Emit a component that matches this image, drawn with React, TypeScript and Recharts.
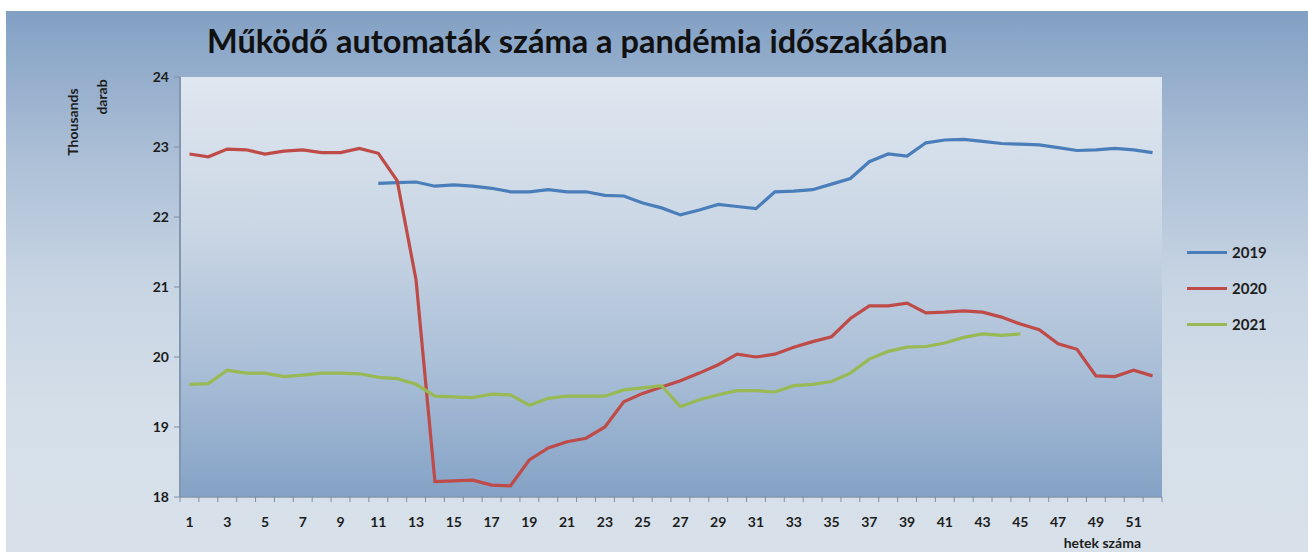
import React from "react";
import { LineChart, Line, XAxis, YAxis, CartesianGrid, Legend, ReferenceArea } from "recharts";

const weeks: number[] = [1,2,3,4,5,6,7,8,9,10,11,12,13,14,15,16,17,18,19,20,21,22,23,24,25,26,27,28,29,30,31,32,33,34,35,36,37,38,39,40,41,42,43,44,45,46,47,48,49,50,51,52];

const series2019: (number | null)[] = [null,null,null,null,null,null,null,null,null,null,
  22.48,22.49,22.5,22.44,22.46,22.44,22.41,22.36,22.36,22.39,
  22.36,22.36,22.31,22.3,22.2,22.13,22.03,22.1,22.18,22.15,
  22.12,22.36,22.37,22.39,22.47,22.55,22.79,22.9,22.87,23.06,
  23.1,23.11,23.08,23.05,23.04,23.03,22.99,22.95,22.96,22.98,
  22.96,22.92];

const series2020: (number | null)[] = [22.9,22.86,22.97,22.96,22.9,22.94,22.96,22.92,22.92,22.98,
  22.91,22.52,21.1,18.22,18.23,18.24,18.17,18.16,18.53,18.7,
  18.79,18.84,19.0,19.36,19.48,19.57,19.66,19.77,19.89,20.04,
  20.0,20.04,20.14,20.22,20.29,20.55,20.73,20.73,20.77,20.63,
  20.64,20.66,20.64,20.57,20.47,20.39,20.19,20.11,19.73,19.72,
  19.81,19.73];

const series2021: (number | null)[] = [19.61,19.62,19.81,19.77,19.77,19.72,19.74,19.77,19.77,19.76,
  19.71,19.69,19.61,19.44,19.43,19.42,19.47,19.46,19.31,19.41,
  19.44,19.44,19.44,19.53,19.56,19.59,19.29,19.39,19.46,19.52,
  19.52,19.5,19.59,19.61,19.65,19.77,19.97,20.08,20.14,20.15,
  20.2,20.28,20.33,20.31,20.33,null,null,null,null,null,
  null,null];

const yTicks: number[] = [18,19,20,21,22,23,24];
const gridValues: number[] = [19,20,21,22,23];
const xLabelTicks: number[] = [1,3,5,7,9,11,13,15,17,19,21,23,25,27,29,31,33,35,37,39,41,43,45,47,49,51];
const xBoundaryTicks: number[] = [0.5, ...weeks.map((w) => w + 0.5)];

const seriesNames = ["2019", "2020", "2021"];
const seriesColors = ["#4a7ebb", "#be4b48", "#98b954"];

const data = weeks.map((w, i) => ({
  week: w,
  y2019: series2019[i],
  y2020: series2020[i],
  y2021: series2021[i],
}));

const FONT = "Lato, 'Open Sans', sans-serif";
const TXT = "#1c1c1c";

const WeekTick = (props: any) => {
  const { x, y, payload } = props;
  const v = payload.value as number;
  if (v % 1 !== 0) {
    return <line x1={x} x2={x} y1={y} y2={y + 5} stroke="#7f8ea0" strokeWidth={1} />;
  }
  if (xLabelTicks.includes(v)) {
    return (
      <text x={x} y={y + 30} textAnchor="middle" fontFamily={FONT} fontWeight={700} fontSize={14} fill={TXT}>
        {v}
      </text>
    );
  }
  return <g />;
};

const LegendContent = (props: any) => {
  const payload = props.payload || [];
  return (
    <div style={{ fontFamily: FONT }}>
      {payload.map((p: any) => (
        <div key={p.value} style={{ display: "flex", alignItems: "center", height: 36 }}>
          <div style={{ width: 40, height: 3, background: p.color, marginRight: 5 }} />
          <span style={{ fontWeight: 700, fontSize: 15, color: TXT }}>{p.value}</span>
        </div>
      ))}
    </div>
  );
};

export default function App() {
  return (
    <div style={{ position: "fixed", left: 0, top: 0, width: 1308, height: 552, background: "#ffffff", overflow: "hidden" }}>
      <div
        style={{
          position: "absolute",
          left: 6,
          top: 11,
          width: 1302,
          height: 541,
          background: "linear-gradient(180deg, #82a0c4 0%, #a9bdd5 25%, #c7d4e3 50%, #d5dfe9 75%, #d8e1ea 100%)",
        }}
      />
      <div
        style={{
          position: "absolute",
          left: 207,
          top: 21,
          fontFamily: FONT,
          fontWeight: 700,
          fontSize: 32.5,
          color: "#111",
          whiteSpace: "nowrap",
        }}
      >
        Működő automaták száma a pandémia időszakában
      </div>
      <div
        style={{
          position: "absolute",
          left: 72,
          top: 122,
          transform: "translate(-50%, -50%) rotate(-90deg)",
          fontFamily: FONT,
          fontWeight: 700,
          fontSize: 14,
          color: TXT,
          whiteSpace: "nowrap",
        }}
      >
        Thousands
      </div>
      <div
        style={{
          position: "absolute",
          left: 101,
          top: 97,
          transform: "translate(-50%, -50%) rotate(-90deg)",
          fontFamily: FONT,
          fontWeight: 700,
          fontSize: 14,
          color: TXT,
          whiteSpace: "nowrap",
        }}
      >
        darab
      </div>
      <div
        style={{
          position: "absolute",
          right: 1308 - 1141,
          top: 534,
          fontFamily: FONT,
          fontWeight: 700,
          fontSize: 14,
          color: TXT,
          whiteSpace: "nowrap",
        }}
      >
        hetek száma
      </div>
      <div style={{ position: "absolute", left: 0, top: 0 }}>
        <LineChart width={1308} height={552} data={data} margin={{ top: 77, right: 146, left: 120, bottom: 25 }}>
          <defs>
            <linearGradient id="plotGrad" x1="0" y1="0" x2="0" y2="1">
              <stop offset="0%" stopColor="#dfe7f0" />
              <stop offset="35%" stopColor="#cbd7e5" />
              <stop offset="70%" stopColor="#a9bed7" />
              <stop offset="100%" stopColor="#84a2c6" />
            </linearGradient>
          </defs>
          <ReferenceArea x1={0.5} x2={52.5} y1={18} y2={24} fill="url(#plotGrad)" fillOpacity={1} stroke="none" ifOverflow="visible" />
          <CartesianGrid horizontal={true} vertical={false} horizontalValues={gridValues} stroke="#6c7a89" strokeWidth={1.6} />
          <XAxis
            dataKey="week"
            type="number"
            domain={[0.5, 52.5]}
            ticks={[...xBoundaryTicks, ...weeks]}
            interval={0}
            tick={<WeekTick />}
            tickLine={false}
            tickSize={0}
            tickMargin={0}
            axisLine={{ stroke: "#8397b0", strokeWidth: 1.5 }}
            height={30}
            allowDataOverflow
          />
          <YAxis
            type="number"
            domain={[18, 24]}
            ticks={yTicks}
            interval={0}
            width={60}
            tickSize={6}
            tickMargin={5}
            tickLine={{ stroke: "#7f8ea0" }}
            axisLine={{ stroke: "#8397b0", strokeWidth: 2 }}
            tick={{ fontFamily: FONT, fontWeight: 700, fontSize: 14, fill: TXT }}
            allowDataOverflow
          />
          <Legend
            layout="vertical"
            align="center"
            verticalAlign="middle"
            content={<LegendContent />}
            wrapperStyle={{ position: "absolute", left: 1187, top: 234, width: 110, height: 110 }}
          />
          <Line type="linear" dataKey="y2019" name={seriesNames[0]} stroke={seriesColors[0]} strokeWidth={3.2} dot={false} isAnimationActive={false} />
          <Line type="linear" dataKey="y2020" name={seriesNames[1]} stroke={seriesColors[1]} strokeWidth={3.2} dot={false} isAnimationActive={false} />
          <Line type="linear" dataKey="y2021" name={seriesNames[2]} stroke={seriesColors[2]} strokeWidth={3.2} dot={false} isAnimationActive={false} />
        </LineChart>
      </div>
    </div>
  );
}
